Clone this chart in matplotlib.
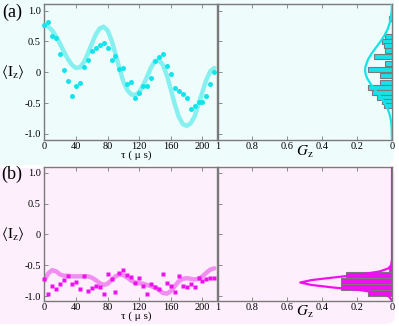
import matplotlib
matplotlib.use("Agg")
import matplotlib.pyplot as plt
from matplotlib.patches import FancyBboxPatch
from matplotlib.transforms import IdentityTransform, blended_transform_factory

plt.rcParams['font.family'] = ['Liberation Serif', 'DejaVu Serif']
plt.rcParams['mathtext.fontset'] = 'stix'

# ---------------- data ----------------
tau_a = [0, 5, 10, 15, 20, 25, 30, 35, 40, 45, 50, 55, 60, 65, 70, 75, 80, 85, 90, 95,
         100, 105, 110, 115, 120, 125, 130, 135, 140, 145, 150, 155, 160, 165, 170, 175,
         180, 185, 190, 195, 200, 205, 210, 215]
iz_a = [0.77, 0.81, 0.59, 0.55, 0.29, 0.03, -0.14, -0.38, -0.22, -0.17, 0.09, 0.20,
        0.35, 0.40, 0.44, 0.47, 0.40, 0.20, 0.27, 0.06, 0.07, -0.19, -0.16, -0.41,
        -0.34, -0.22, -0.23, -0.09, 0.18, 0.25, 0.30, 0.10, -0.02, -0.25, -0.30, -0.36,
        -0.41, -0.60, -0.55, -0.48, -0.49, -0.39, -0.19, 0.00]
fit_t_a = [0, 5, 10, 15, 20, 25, 30, 35, 40, 45, 50, 55, 60, 65, 70, 75, 80, 85, 90, 95,
           100, 105, 110, 115, 120, 125, 130, 135, 140, 145, 150, 155, 160, 165, 170, 175,
           180, 185, 190, 195, 200, 205, 210, 215]
fit_a = [0.77, 0.74, 0.68, 0.58, 0.46, 0.33, 0.21, 0.12, 0.07, 0.08, 0.16, 0.30, 0.46,
         0.61, 0.71, 0.74, 0.68, 0.52, 0.30, 0.06, -0.15, -0.29, -0.36, -0.37, -0.32,
         -0.21, -0.07, 0.08, 0.18, 0.20, 0.12, -0.05, -0.28, -0.52, -0.72, -0.84, -0.87,
         -0.83, -0.72, -0.52, -0.32, -0.12, 0.02, 0.07]

tau_b = tau_a
iz_b = [-0.73, -0.97, -0.84, -0.89, -0.81, -0.74, -0.67, -0.81, -0.77, -0.88, -0.68,
        -0.91, -0.87, -0.83, -0.85, -0.96, -0.64, -0.72, -0.94, -0.62, -0.57, -0.66,
        -0.69, -0.78, -0.70, -0.84, -0.96, -0.81, -0.85, -0.88, -0.64, -0.78, -0.83,
        -0.94, -0.68, -0.83, -0.86, -0.80, -0.86, -0.71, -0.75, -0.73, -0.71, -0.71]
fit_b = [-0.75, -0.63, -0.58, -0.60, -0.65, -0.67, -0.67, -0.68, -0.68, -0.68, -0.68,
         -0.68, -0.70, -0.74, -0.79, -0.82, -0.80, -0.74, -0.68, -0.65, -0.66, -0.70,
         -0.75, -0.78, -0.79, -0.80, -0.82, -0.84, -0.86, -0.90, -0.95, -0.96, -0.92,
         -0.84, -0.76, -0.72, -0.71, -0.72, -0.73, -0.72, -0.68, -0.62, -0.57, -0.55]

# histogram (a): bin centres of <Iz> and probability G_z
hist_y_a = [0.87, 0.58, 0.50, 0.43, 0.35, 0.26, 0.15, 0.05, -0.05, -0.16, -0.25,
            -0.33, -0.41, -0.48, -0.545]
hist_g_a = [0.019, 0.039, 0.058, 0.048, 0.039, 0.106, 0.039, 0.135, 0.067, 0.067,
            0.135, 0.116, 0.087, 0.058, 0.048]
# gaussian envelope (a)
gauss_y_a = [1.12, 1.0, 0.9, 0.8, 0.7, 0.6, 0.5, 0.4, 0.3, 0.2, 0.1, 0.05, 0.0, -0.05,
             -0.1, -0.2, -0.3, -0.4, -0.5, -0.6, -0.7, -0.8, -0.9, -1.0, -1.1]
gauss_g_a = [0.000, 0.002, 0.006, 0.013, 0.025, 0.043, 0.066, 0.092, 0.118, 0.139,
             0.151, 0.154, 0.153, 0.149, 0.142, 0.120, 0.093, 0.066, 0.042, 0.024,
             0.012, 0.005, 0.002, 0.001, 0.000]

# histogram (b)
hist_y_b = [-0.565, -0.655, -0.75, -0.85, -0.95]
hist_g_b = [0.02, 0.266, 0.29, 0.29, 0.135]
gauss_y_b = [1.09, 0.0, -0.4, -0.5, -0.55, -0.6, -0.65, -0.7, -0.74, -0.78, -0.82,
             -0.86, -0.9, -0.95, -1.0, -1.05, -1.08]
gauss_g_b = [0.0, 0.0, 0.0, 0.005, 0.02, 0.07, 0.18, 0.34, 0.46, 0.526, 0.46, 0.34,
             0.19, 0.07, 0.02, 0.005, 0.0]

yticks = [1.0, 0.5, 0.0, -0.5, -1.0]
ytick_labels = ['1.0', '0.5', '0', '-0.5', '-1.0']
xticks = [0, 40, 80, 120, 160, 200]
gticks = [1, 0.8, 0.6, 0.4, 0.2, 0]
gtick_labels = ['1', '0.8', '0.6', '0.4', '0.2', '0']

# ---------------- style ----------------
BG_A = '#effcfc'
BG_B = '#fdf0fc'
CYAN = '#13e3eb'
CYAN_L = '#86f0f0'
MAG = '#ee10ee'
MAG_L = '#f28ef2'
SPINE = '#7a7a7a'

W, H = 399, 326
fig = plt.figure(figsize=(W / 100, H / 100), dpi=100)

fig.patches.append(FancyBboxPatch((-12, H - 165), 406, 180,
                                  boxstyle='round,pad=0,rounding_size=9',
                                  transform=IdentityTransform(), fc=BG_A, ec='none',
                                  zorder=-10))
fig.patches.append(FancyBboxPatch((-12, H - 324), 407, 156,
                                  boxstyle='round,pad=0,rounding_size=9',
                                  transform=IdentityTransform(), fc=BG_B, ec='none',
                                  zorder=-10))


def fpos(x0, y0, x1, y1):
    return [x0 / W, 1 - y1 / H, (x1 - x0) / W, (y1 - y0) / H]


def style(ax, bg):
    ax.set_facecolor(bg)
    for s in ax.spines.values():
        s.set_color(SPINE)
        s.set_linewidth(1.0)
    ax.tick_params(direction='in', length=3, width=0.6, color=SPINE,
                   labelsize=7.5, top=True, right=True)
    ax.tick_params(axis='x', pad=1.2)
    ax.tick_params(axis='y', pad=2.5)


ax1 = fig.add_axes(fpos(44.3, 3.5, 217.5, 140))
ax2 = fig.add_axes(fpos(217.5, 3.5, 392, 140))
ax3 = fig.add_axes(fpos(44.3, 167.3, 217.5, 301))
ax4 = fig.add_axes(fpos(217.5, 167.3, 392, 301))

for ax, bg in ((ax1, BG_A), (ax2, BG_A), (ax3, BG_B), (ax4, BG_B)):
    style(ax, bg)

# left panels
ax1.plot(fit_t_a, fit_a, color=CYAN_L, lw=3.2, solid_capstyle='round', zorder=2)
ax1.plot(tau_a, iz_a, 'o', color=CYAN, ms=3.6, mec='none', zorder=3, clip_on=False)
ax3.plot(tau_b, fit_b, color=MAG_L, lw=3.2, solid_capstyle='round', zorder=2)
ax3.plot(tau_b, iz_b, 's', color=MAG, ms=3.2, mec='none', zorder=3, clip_on=False)

for ax, ylim in ((ax1, (-1.1, 1.117)), (ax3, (-1.08, 1.09))):
    ax.set_xlim(0, 219)
    ax.set_ylim(*ylim)
    ax.set_xticks(xticks)
    ax.set_yticks(yticks)
    ax.set_yticklabels(ytick_labels)
    ax.tick_params(right=False)

# right panels
ax2.barh(hist_y_a, hist_g_a, height=0.08, color=CYAN, edgecolor=SPINE, lw=0.8, zorder=2)
ax2.plot(gauss_g_a, gauss_y_a, color=CYAN, lw=1.6, zorder=3)
ax4.barh(hist_y_b, hist_g_b, height=0.095, color=MAG, edgecolor=SPINE, lw=0.8, zorder=2)
ax4.plot(gauss_g_b, gauss_y_b, color=MAG, lw=1.6, zorder=3)

for ax, ylim in ((ax2, (-1.1, 1.117)), (ax4, (-1.08, 1.09))):
    ax.set_xlim(1, 0)
    ax.set_ylim(*ylim)
    ax.set_xticks(gticks)
    ax.set_xticklabels(gtick_labels)
    ax.set_yticks(yticks)
    ax.tick_params(labelleft=False, right=False)

# labels
for ax, lab, ylab_y in ((ax1, '(a)', 12.5), (ax3, '(b)', 174)):
    fig.text(12 / W, 1 - ylab_y / H, lab, ha='center', va='center', fontsize=13)
    tr = blended_transform_factory(fig.transFigure, ax.transData)
    ax.text(13 / W, 0.0, r'$\langle\mathrm{I}_{\mathrm{z}}\rangle$', transform=tr,
            ha='center', va='center', fontsize=11)

fig.text(136 / W, 1 - 155.5 / H, 'τ ( μ s)', ha='center', va='center', fontsize=8)
fig.text(136 / W, 1 - 316 / H, 'τ ( μ s)', ha='center', va='center', fontsize=8)
fig.text(305 / W, 1 - 152 / H, r'$G_{\mathrm{z}}$', ha='center', va='center', fontsize=11)
fig.text(305 / W, 1 - 312 / H, r'$G_{\mathrm{z}}$', ha='center', va='center', fontsize=11)

fig.savefig('out.png', dpi=100)
